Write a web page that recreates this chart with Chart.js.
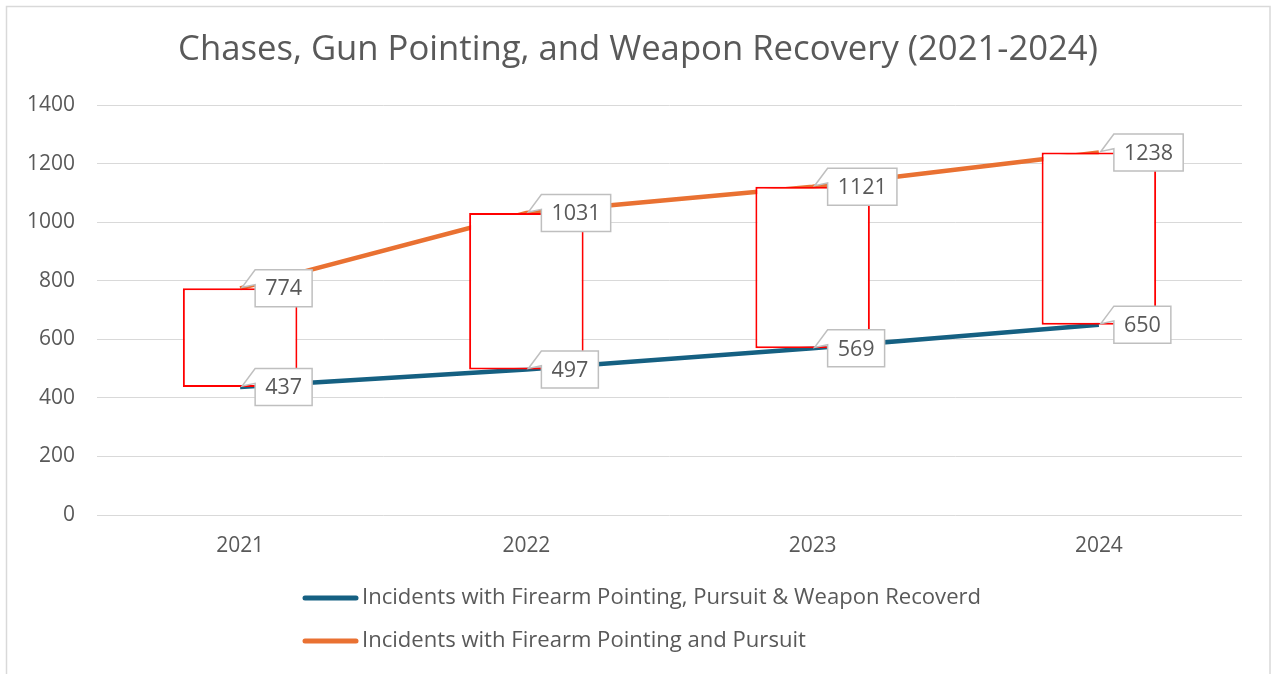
<!DOCTYPE html>
<html>
<head>
<meta charset="utf-8">
<script src="https://cdn.jsdelivr.net/npm/chart.js@4.4.1/dist/chart.umd.min.js"></script>
<style>
  html, body { margin: 0; padding: 0; background: #ffffff; }
  #wrap { position: relative; width: 1271px; height: 674px; }
</style>
</head>
<body>
<div id="wrap"><canvas id="c" width="1271" height="674"></canvas></div>
<script>
// ---- data ----
const categories = ['2021', '2022', '2023', '2024'];
const recoveredValues = [437, 497, 569, 650];   // Incidents with Firearm Pointing, Pursuit & Weapon Recoverd
const pursuitValues = [774, 1031, 1121, 1238];  // Incidents with Firearm Pointing and Pursuit
const seriesNames = [
  'Incidents with Firearm Pointing, Pursuit & Weapon Recoverd',
  'Incidents with Firearm Pointing and Pursuit'
];
const titleText = 'Chases, Gun Pointing, and Weapon Recovery (2021-2024)';
const yTicks = [0, 200, 400, 600, 800, 1000, 1200, 1400];

const FAMILY = '"Open Sans", "Noto Sans", sans-serif';
const TEXT = '#595959';
const BLUE = '#156082';
const ORANGE = '#E97132';

// measure helper to fit font sizes to the reference text widths
const mctx = document.createElement('canvas').getContext('2d');
function fitSize(text, target, base) {
  mctx.font = base + 'px ' + FAMILY;
  const w = mctx.measureText(text).width;
  return +(base * target / w).toFixed(2);
}
const titleSize = fitSize(titleText, 920, 32);
const legendSize = fitSize(seriesNames[0], 619, 20);
const tickSize = fitSize('1400', 48, 18);
const labelSize = fitSize('774', 37, 20);

// up/down bars built from the two series
const upDown = categories.map((c, i) => [recoveredValues[i], pursuitValues[i]]);

const framePlugin = {
  id: 'frame',
  beforeDraw(chart) {
    const ctx = chart.ctx;
    ctx.save();
    ctx.fillStyle = '#ffffff';
    ctx.fillRect(0, 0, chart.width, chart.height);
    ctx.strokeStyle = '#D9D9D9';
    ctx.lineWidth = 1.5;
    ctx.strokeRect(6.5, 6.5, 1263.5, 680);
    // title
    ctx.fillStyle = TEXT;
    ctx.font = titleSize + 'px ' + FAMILY;
    ctx.textAlign = 'center';
    ctx.textBaseline = 'middle';
    ctx.fillText(titleText, 638, 50);
    ctx.restore();
  },
  afterDraw(chart) {
    const ctx = chart.ctx;
    ctx.save();
    // legend
    const rows = [{name: seriesNames[0], color: BLUE, y: 598}, {name: seriesNames[1], color: ORANGE, y: 641}];
    rows.forEach(r => {
      ctx.strokeStyle = r.color;
      ctx.lineWidth = 5;
      ctx.lineCap = 'round';
      ctx.beginPath();
      ctx.moveTo(305, r.y);
      ctx.lineTo(356, r.y);
      ctx.stroke();
      ctx.fillStyle = TEXT;
      ctx.font = legendSize + 'px ' + FAMILY;
      ctx.textAlign = 'left';
      ctx.textBaseline = 'middle';
      ctx.fillText(r.name, 362, r.y);
    });
    // data label callouts
    [1, 2].forEach(di => {
      const meta = chart.getDatasetMeta(di);
      const vals = chart.data.datasets[di].data;
      meta.data.forEach((pt, i) => {
        const txt = String(vals[i]);
        ctx.font = labelSize + 'px ' + FAMILY;
        const tw = ctx.measureText(txt).width;
        const L = pt.x + 15, W = tw + 20, H = 37;
        const T = pt.y - H / 2, R = L + W, B = T + H;
        ctx.beginPath();
        ctx.moveTo(L, T);
        ctx.lineTo(R, T);
        ctx.lineTo(R, B);
        ctx.lineTo(L, B);
        ctx.lineTo(L, T + H * 0.4);
        ctx.lineTo(pt.x + 2, pt.y - 1);
        ctx.closePath();
        ctx.fillStyle = '#ffffff';
        ctx.fill();
        ctx.strokeStyle = '#BFBFBF';
        ctx.lineWidth = 1.5;
        ctx.lineJoin = 'miter';
        ctx.stroke();
        ctx.fillStyle = TEXT;
        ctx.textAlign = 'center';
        ctx.textBaseline = 'middle';
        ctx.fillText(txt, L + W / 2, pt.y + 1);
      });
    });
    ctx.restore();
  }
};

new Chart(document.getElementById('c'), {
  data: {
    labels: categories,
    datasets: [
      {
        type: 'bar',
        label: 'Up/Down',
        data: upDown,
        backgroundColor: '#ffffff',
        borderColor: '#FF0000',
        borderWidth: 2,
        borderSkipped: false,
        barPercentage: 0.4,
        categoryPercentage: 1,
        order: 0
      },
      {
        type: 'line',
        label: seriesNames[0],
        data: recoveredValues,
        borderColor: BLUE,
        backgroundColor: BLUE,
        borderWidth: 4.5,
        pointRadius: 0,
        tension: 0,
        order: 1
      },
      {
        type: 'line',
        label: seriesNames[1],
        data: pursuitValues,
        borderColor: ORANGE,
        backgroundColor: ORANGE,
        borderWidth: 4.5,
        pointRadius: 0,
        tension: 0,
        order: 1
      }
    ]
  },
  options: {
    responsive: false,
    animation: false,
    events: [],
    layout: { padding: { left: 0, right: 29, top: 105, bottom: 0 } },
    plugins: { legend: { display: false }, title: { display: false }, tooltip: { enabled: false } },
    scales: {
      x: {
        offset: true,
        grid: { display: false, drawTicks: false },
        border: { display: false },
        ticks: { color: TEXT, font: { family: FAMILY, size: tickSize }, padding: 18 },
        afterFit(s) { s.height = 159; }
      },
      y: {
        min: 0,
        max: 1400,
        afterBuildTicks(s) { s.ticks = yTicks.map(v => ({ value: v })); },
        grid: { color: '#D9D9D9', lineWidth: 1, drawTicks: false },
        border: { display: false },
        ticks: { color: TEXT, font: { family: FAMILY, size: tickSize }, padding: 22, callback: v => String(v) },
        afterFit(s) { s.width = 97; }
      }
    }
  },
  plugins: [framePlugin]
});
</script>
</body>
</html>
